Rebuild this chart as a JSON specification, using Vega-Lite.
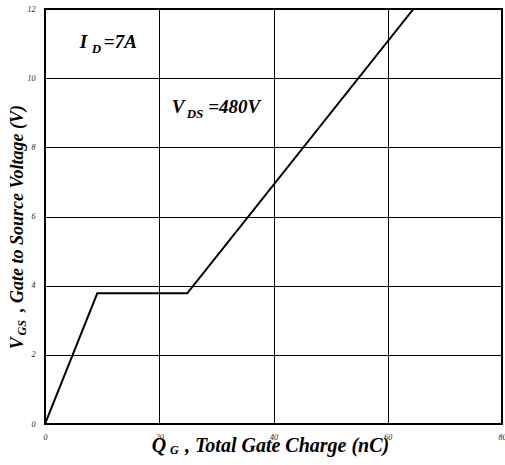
{
  "$schema": "https://vega.github.io/schema/vega-lite/v6.json",
  "autosize": {"type": "none"},
  "padding": {"left": 45, "top": 9, "right": 3, "bottom": 41},
  "width": 457,
  "height": 415,
  "background": "white",
  "config": {
    "view": {"stroke": "black", "strokeWidth": 2},
    "font": "Liberation Serif"
  },
  "datasets": {
    "curve": [
      {"q": 0, "v": 0},
      {"q": 9.15, "v": 3.78},
      {"q": 24.9, "v": 3.78},
      {"q": 64.5, "v": 12}
    ],
    "mainText": [
      {"q": 6.1, "v": 10.88, "t": "I"},
      {"q": 10.3, "v": 10.88, "t": "=7A"},
      {"q": 22.17, "v": 8.98, "t": "V"},
      {"q": 28.58, "v": 8.98, "t": "=480V"}
    ],
    "subText": [
      {"q": 8.2, "v": 10.73, "t": "D"},
      {"q": 24.8, "v": 8.84, "t": "DS"}
    ],
    "xTitleMain": [
      {"q": 18.67, "v": -0.8, "t": "Q"},
      {"q": 24.5, "v": -0.8, "t": ", Total Gate Charge (nC)"}
    ],
    "xTitleSub": [
      {"q": 21.88, "v": -0.87, "t": "G"}
    ],
    "yTitleMain": [
      {"q": -3.85, "v": 2.16, "t": "V"},
      {"q": -3.85, "v": 3.24, "t": ", Gate to Source Voltage (V)"}
    ],
    "yTitleSub": [
      {"q": -3.33, "v": 2.56, "t": "GS"}
    ]
  },
  "encoding": {
    "x": {
      "field": "q", "type": "quantitative",
      "scale": {"domain": [0, 80], "nice": false, "zero": false},
      "axis": {
        "values": [0, 20, 40, 60, 80], "title": null,
        "grid": true, "gridColor": "black", "gridWidth": 1, "gridOpacity": 1,
        "ticks": false, "domain": false,
        "labelFont": "Liberation Serif", "labelFontStyle": "italic", "labelFontSize": 8,
        "labelColor": "#222", "labelPadding": 9, "labelFlush": false
      }
    },
    "y": {
      "field": "v", "type": "quantitative",
      "scale": {"domain": [0, 12], "nice": false, "zero": false},
      "axis": {
        "values": [0, 2, 4, 6, 8, 10, 12], "title": null,
        "grid": true, "gridColor": "black", "gridWidth": 1, "gridOpacity": 1,
        "ticks": false, "domain": false,
        "labelFont": "Liberation Serif", "labelFontStyle": "italic", "labelFontSize": 8,
        "labelColor": "#222", "labelPadding": 10, "labelFlush": false
      }
    }
  },
  "layer": [
    {
      "data": {"name": "curve"},
      "mark": {"type": "line", "color": "black", "strokeWidth": 2, "clip": true}
    },
    {
      "data": {"name": "mainText"},
      "mark": {"type": "text", "align": "left", "baseline": "alphabetic", "fontSize": 19, "fontWeight": "bold", "fontStyle": "italic", "font": "Liberation Serif", "color": "black"},
      "encoding": {"text": {"field": "t"}}
    },
    {
      "data": {"name": "subText"},
      "mark": {"type": "text", "align": "left", "baseline": "alphabetic", "fontSize": 13, "fontWeight": "bold", "fontStyle": "italic", "font": "Liberation Serif", "color": "black"},
      "encoding": {"text": {"field": "t"}}
    },
    {
      "data": {"name": "xTitleMain"},
      "mark": {"type": "text", "align": "left", "baseline": "alphabetic", "fontSize": 20, "fontWeight": "bold", "fontStyle": "italic", "font": "Liberation Serif", "color": "black", "clip": false},
      "encoding": {"text": {"field": "t"}}
    },
    {
      "data": {"name": "xTitleSub"},
      "mark": {"type": "text", "align": "left", "baseline": "alphabetic", "fontSize": 12, "fontWeight": "bold", "fontStyle": "italic", "font": "Liberation Serif", "color": "black", "clip": false},
      "encoding": {"text": {"field": "t"}}
    },
    {
      "data": {"name": "yTitleMain"},
      "mark": {"type": "text", "align": "left", "baseline": "alphabetic", "angle": 270, "fontSize": 18, "fontWeight": "bold", "fontStyle": "italic", "font": "Liberation Serif", "color": "black", "clip": false},
      "encoding": {"text": {"field": "t"}}
    },
    {
      "data": {"name": "yTitleSub"},
      "mark": {"type": "text", "align": "left", "baseline": "alphabetic", "angle": 270, "fontSize": 12, "fontWeight": "bold", "fontStyle": "italic", "font": "Liberation Serif", "color": "black", "clip": false},
      "encoding": {"text": {"field": "t"}}
    }
  ]
}
